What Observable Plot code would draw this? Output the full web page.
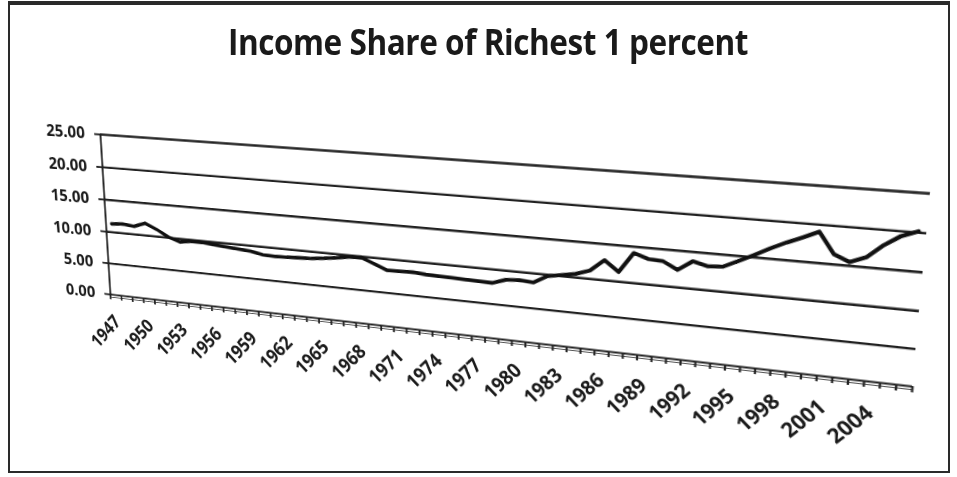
<!DOCTYPE html>
<html><head><meta charset="utf-8">
<script src="https://cdn.jsdelivr.net/npm/d3@7"></script>
<script src="https://cdn.jsdelivr.net/npm/@observablehq/plot@0.6"></script>
<style>
html,body{margin:0;padding:0;width:957px;height:477px;overflow:hidden;background:#fff;}
#frame{position:absolute;left:8px;top:1px;width:942px;height:472px;border:2px solid #2a2a2a;border-top-width:4px;box-sizing:border-box;}
#chart{position:absolute;left:0;top:0;transform-origin:0 0;}
#title{position:absolute;left:228px;top:24px;font-family:"Open Sans",sans-serif;font-weight:700;font-size:35px;line-height:35px;color:#1a1a1a;white-space:nowrap;transform-origin:0 0;letter-spacing:-0.5px;}
</style></head><body>
<div id="frame"></div>
<div id="chart"></div>
<div id="title">Income Share of Richest 1 percent</div>
<script>
const years = [1947,1948,1949,1950,1951,1952,1953,1954,1955,1956,1957,1958,1959,1960,1961,1962,1963,1964,1965,1966,1967,1968,1969,1970,1971,1972,1973,1974,1975,1976,1977,1978,1979,1980,1981,1982,1983,1984,1985,1986,1987,1988,1989,1990,1991,1992,1993,1994,1995,1996,1997,1998,1999,2000,2001,2002,2003,2004,2005,2006];
const share = [11.3,11.45,11.25,11.9,11.1,10.1,9.5,9.8,9.75,9.6,9.45,9.3,9.15,8.8,8.75,8.8,8.9,9.0,9.2,9.45,9.75,9.85,9.1,8.35,8.4,8.45,8.3,8.25,8.2,8.15,8.1,8.05,8.7,8.85,8.7,9.8,10.15,10.5,11.15,12.8,11.35,14.15,13.5,13.4,12.4,13.75,13.25,13.4,14.35,15.35,16.4,17.35,18.2,19.1,16.35,15.5,16.3,18.05,19.4,20.15];
const yTicks = [0,5,10,15,20,25];
const xLabelYears = [1947,1950,1953,1956,1959,1962,1965,1968,1971,1974,1977,1980,1983,1986,1989,1992,1995,1998,2001,2004];

const rows = years.map((yr,i)=>({year: yr, share: share[i]}));
const bounds = years.map(y=>y-0.5).concat([years[years.length-1]+0.5]);
const xDomain = [years[0]-0.5, years[years.length-1]+0.5];

const W=957, H=477, mL=103, mR=36, mT=130, mB=170;
const ink = "#1a1a1a";
const plot = Plot.plot({
  width: W, height: H,
  marginLeft: mL, marginRight: mR, marginTop: mT, marginBottom: mB,
  x: {domain: xDomain, axis: null, label: null},
  y: {domain: [0,25], axis: null, label: null},
  style: {fontFamily: "'Open Sans', sans-serif", fontWeight: 700, fontSize: "17px", color: ink, background: "transparent", overflow: "visible"},
  marks: [
    Plot.ruleY(yTicks.filter(d=>d>0), {stroke: "#222", strokeWidth: 2.4}),
    Plot.ruleY([0], {stroke: "#222", strokeWidth: 2.2}),
    Plot.ruleY([0], {stroke: "#555", strokeWidth: 1.2, dy: 3}),
    Plot.ruleX([xDomain[0]], {y1: 0, y2: 25, stroke: "#222", strokeWidth: 2.2}),
    Plot.axisY(yTicks, {label: null, tickFormat: d=>d.toFixed(2), tickSize: 7, tickPadding: 12, stroke: "#222", strokeWidth: 2, fill: ink, fontSize: 18.5, letterSpacing: 0.5}),
    Plot.axisX(bounds, {label: null, tickFormat: ()=> "", tickSize: 6, tickPadding: 0, stroke: "#222", strokeWidth: 2}),
    Plot.axisX(xLabelYears, {label: null, tickFormat: d=>String(d), tickSize: 0, tickPadding: 27, tickRotate: -47, fill: ink, fontSize: 20}),
    Plot.line(rows, {x: "year", y: "share", stroke: "#111", strokeWidth: 3.8, strokeLinejoin: "round", strokeLinecap: "round"})
  ]
});
const chart = document.getElementById("chart");
chart.appendChild(plot);

// perspective of the scanned page: map the plot frame onto the photographed quadrilateral
function homography(src, dst) {
  const A=[], b=[];
  for (let i=0;i<4;i++){
    const [x,y]=src[i], [u,v]=dst[i];
    A.push([x,y,1,0,0,0,-u*x,-u*y]); b.push(u);
    A.push([0,0,0,x,y,1,-v*x,-v*y]); b.push(v);
  }
  const n=8;
  for (let i=0;i<n;i++){
    let p=i; for(let r=i+1;r<n;r++) if(Math.abs(A[r][i])>Math.abs(A[p][i])) p=r;
    [A[i],A[p]]=[A[p],A[i]]; [b[i],b[p]]=[b[p],b[i]];
    for(let r=0;r<n;r++){ if(r===i) continue; const f=A[r][i]/A[i][i]; for(let c=i;c<n;c++) A[r][c]-=f*A[i][c]; b[r]-=f*b[i]; }
  }
  const h=b.map((v,i)=>v/A[i][i]);
  return `matrix3d(${h[0]},${h[3]},0,${h[6]},${h[1]},${h[4]},0,${h[7]},0,0,1,0,${h[2]},${h[5]},0,1)`;
}
const src = [[mL,mT],[W-mR,mT],[mL,H-mB],[W-mR,H-mB]];
const dst = [[100,134],[930,193],[110,294],[912,386]];
chart.style.transform = homography(src, dst);

const t = document.getElementById("title");
const w = t.getBoundingClientRect().width;
t.style.transform = `scaleX(${520/w})`;
</script>
</body></html>
